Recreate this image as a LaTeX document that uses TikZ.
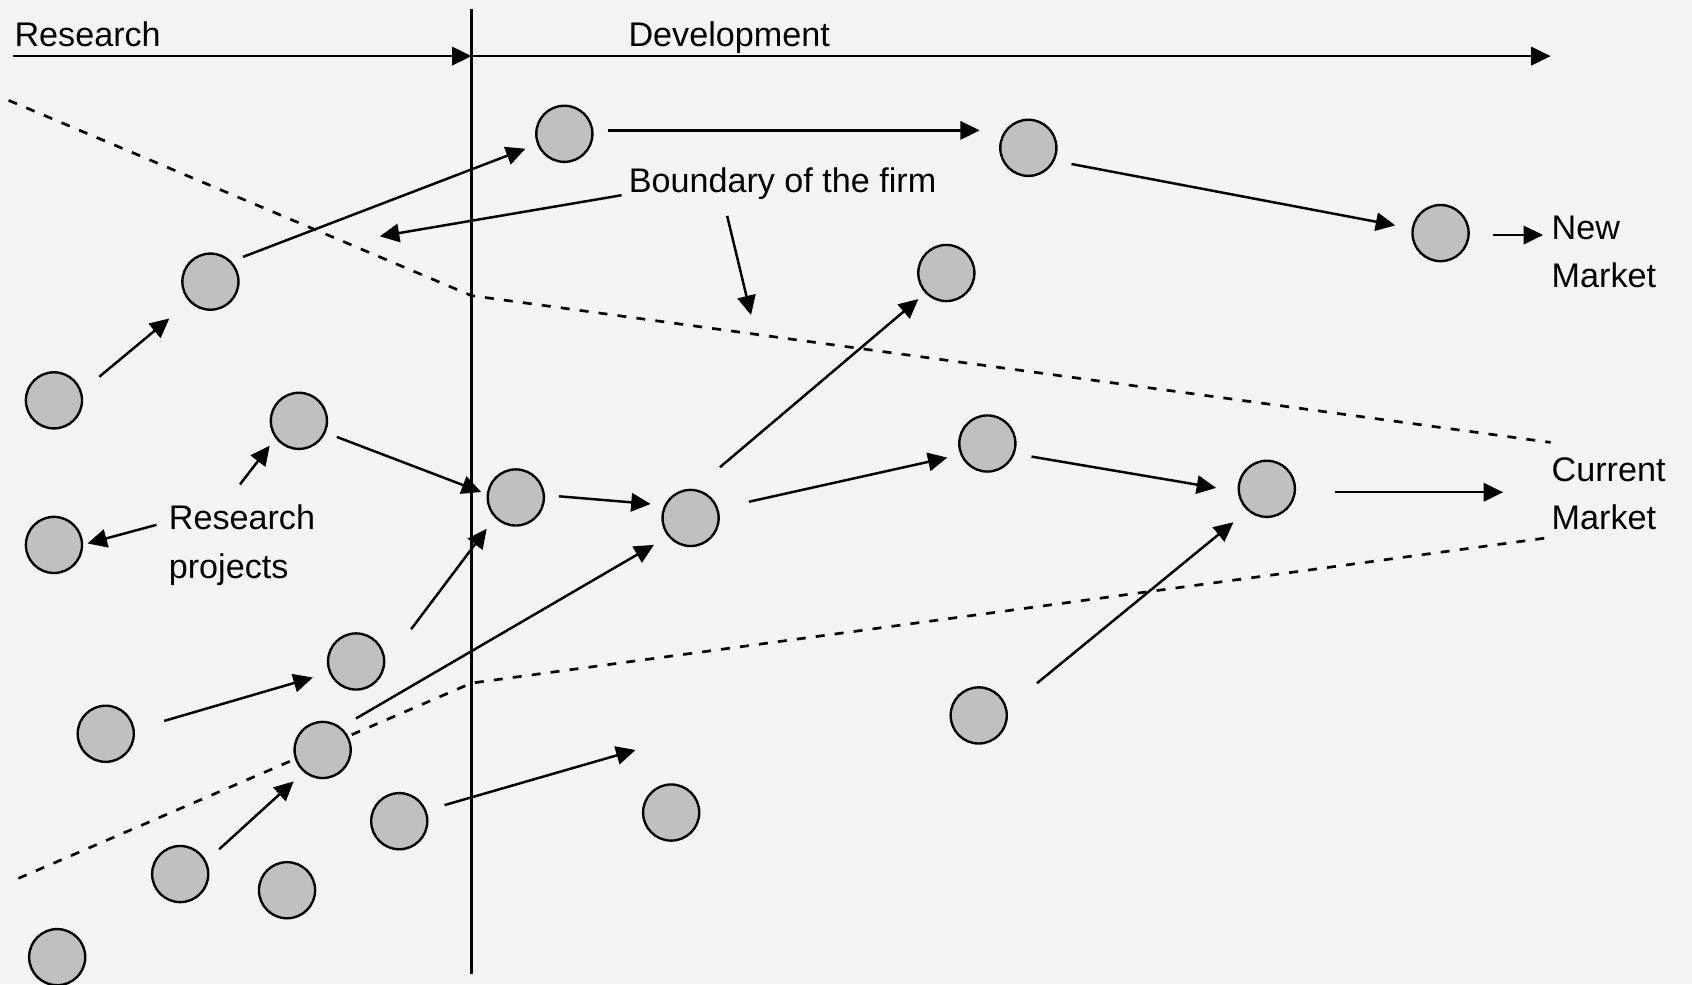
\documentclass[tikz,border=0pt]{standalone}
\usepackage{fontspec}
\setmainfont{Liberation Sans}
\usetikzlibrary{arrows.meta,calc}
\definecolor{bg}{HTML}{F4F4F4}
\definecolor{ballfill}{HTML}{C0C0C0}
\begin{document}
\begin{tikzpicture}[x=0.01cm,y=-0.01cm,
  ball/.style={circle,draw=black,fill=ballfill,line width=0.022cm,minimum size=0.52cm,inner sep=0pt,outer sep=0pt},
  arr/.style={line width=0.023cm,-{Triangle[length=0.18cm,width=0.17cm]}},
  bnd/.style={line width=0.025cm,dash pattern=on 0.083cm off 0.094cm},
  axis/.style={line width=0.023cm},
  lbl/.style={inner sep=0pt,outer sep=0pt,font=\fontsize{9pt}{12.8pt}\selectfont},
  mlbl/.style={lbl,align=left,anchor=west}]
\fill[bg] (0,0) rectangle (1568,912);
\useasboundingbox (0,0) rectangle (1568,912);

% boundary of the firm (dashed)
\draw[bnd] (8,93) -- (437,274) -- (1437,410);
\draw[bnd] (17,814) -- (437,633) -- (1437,498);

% research / development axis
\draw[axis] (437,8) -- (437,903);
\coordinate (ax0) at (12,52);
\coordinate (ax1) at (437,52);
\coordinate (ax2) at (1437,52);
\draw[arr] (ax0) -- (ax1);
\draw[arr] (ax1) -- (ax2);

% labels
\node[lbl,anchor=base west] (res) at (13.5,43.3) {Research};
\node[lbl,anchor=base west] (dev) at (582.5,43.3) {Development};
\node[lbl,anchor=base west] (bf) at (582.7,178) {Boundary of the firm};
\node[mlbl] (nm) at (1438,233.6) {New\\Market};
\node[mlbl] (cm) at (1438,457.5) {Current\\Market};
\node[mlbl] (rp) at (156.5,505.3) {Research\\projects};

% projects
\node[ball] (c1) at (523,124) {};
\node[ball] (c2) at (953,137) {};
\node[ball] (c3) at (1335,216) {};
\node[ball] (c4) at (877,253) {};
\node[ball] (c5) at (195,261) {};
\node[ball] (c6) at (50,371) {};
\node[ball] (c7) at (277,390) {};
\node[ball] (c8) at (915,411) {};
\node[ball] (c9) at (478,461) {};
\node[ball] (c10) at (640,480) {};
\node[ball] (c11) at (1174,453) {};
\node[ball] (c12) at (50,505) {};
\node[ball] (c13) at (330,613) {};
\node[ball] (c14) at (98,680) {};
\node[ball] (c15) at (907,663) {};
\node[ball] (c16) at (299,695) {};
\node[ball] (c17) at (370,761) {};
\node[ball] (c18) at (622,753) {};
\node[ball] (c19) at (167,810) {};
\node[ball] (c20) at (266,825) {};
\node[ball] (c21) at (53,887) {};

% connectors
\draw[arr,shorten <=0.223cm,shorten >=0.251cm] (c6.17) -- (c5.224);
\draw[arr,shorten <=0.126cm,shorten >=0.126cm] (c5.45) -- (c1.201);
\draw[arr,shorten <=0.142cm,shorten >=0.19cm] (c1.7) -- (c1.7 -| c2.west);
\draw[arr,shorten <=0.171cm,shorten >=0.166cm] (c2.333) -- (c3.171);
\draw[arr,shorten <=0.23cm,shorten >=0.08cm] (c3.356) -- (c3.356 -| nm.west);
\draw[arr,shorten <=0.241cm,shorten >=0.098cm] (rp.114) -- (c7.216);
\draw[arr,shorten <=0.119cm,shorten >=0.052cm] (rp.162) -- (c12.0);
\draw[arr,shorten <=0.121cm,shorten >=0.066cm] (c7.336) -- (c9.174);
\draw[arr,shorten <=0.141cm,shorten >=0.139cm] (c9.5) -- (c10.153);
\draw[arr,shorten <=0.326cm,shorten >=0.094cm] (c10.85) -- (c4.224);
\draw[arr,shorten <=0.301cm,shorten >=0.134cm] (c10.19) -- (c8.203);
\draw[arr,shorten <=0.169cm,shorten >=0.214cm] (c8.339) -- (c11.186);
\draw[arr,shorten <=0.372cm,shorten >=0.45cm] (c11.353) -- (c11.353 -| cm.west);
\draw[arr,shorten <=0.295cm,shorten >=0.168cm] (c14.8) -- (c13.203);
\draw[arr,shorten <=0.42cm,shorten >=0.137cm] (c13.352) -- (c9.224);
\draw[arr,shorten <=0.172cm,shorten >=0.163cm] (c16.52) -- (c10.220);
\draw[arr,shorten <=0.171cm,shorten >=0.136cm] (c19.26) -- (c16.230);
\coordinate (e18) at (589,695);
\draw[arr,shorten <=0.186cm] (c17.22) -- (e18);
\draw[arr,shorten <=0.372cm,shorten >=0.179cm] (c15.14) -- (c11.229);
\coordinate (e1) at (352,219);
\draw[arr,shorten <=0.068cm] (bf.184) -- (e1);
\coordinate (e2) at (696,292);
\draw[arr,shorten <=0.159cm] (bf.195) -- (e2);
\end{tikzpicture}
\end{document}
